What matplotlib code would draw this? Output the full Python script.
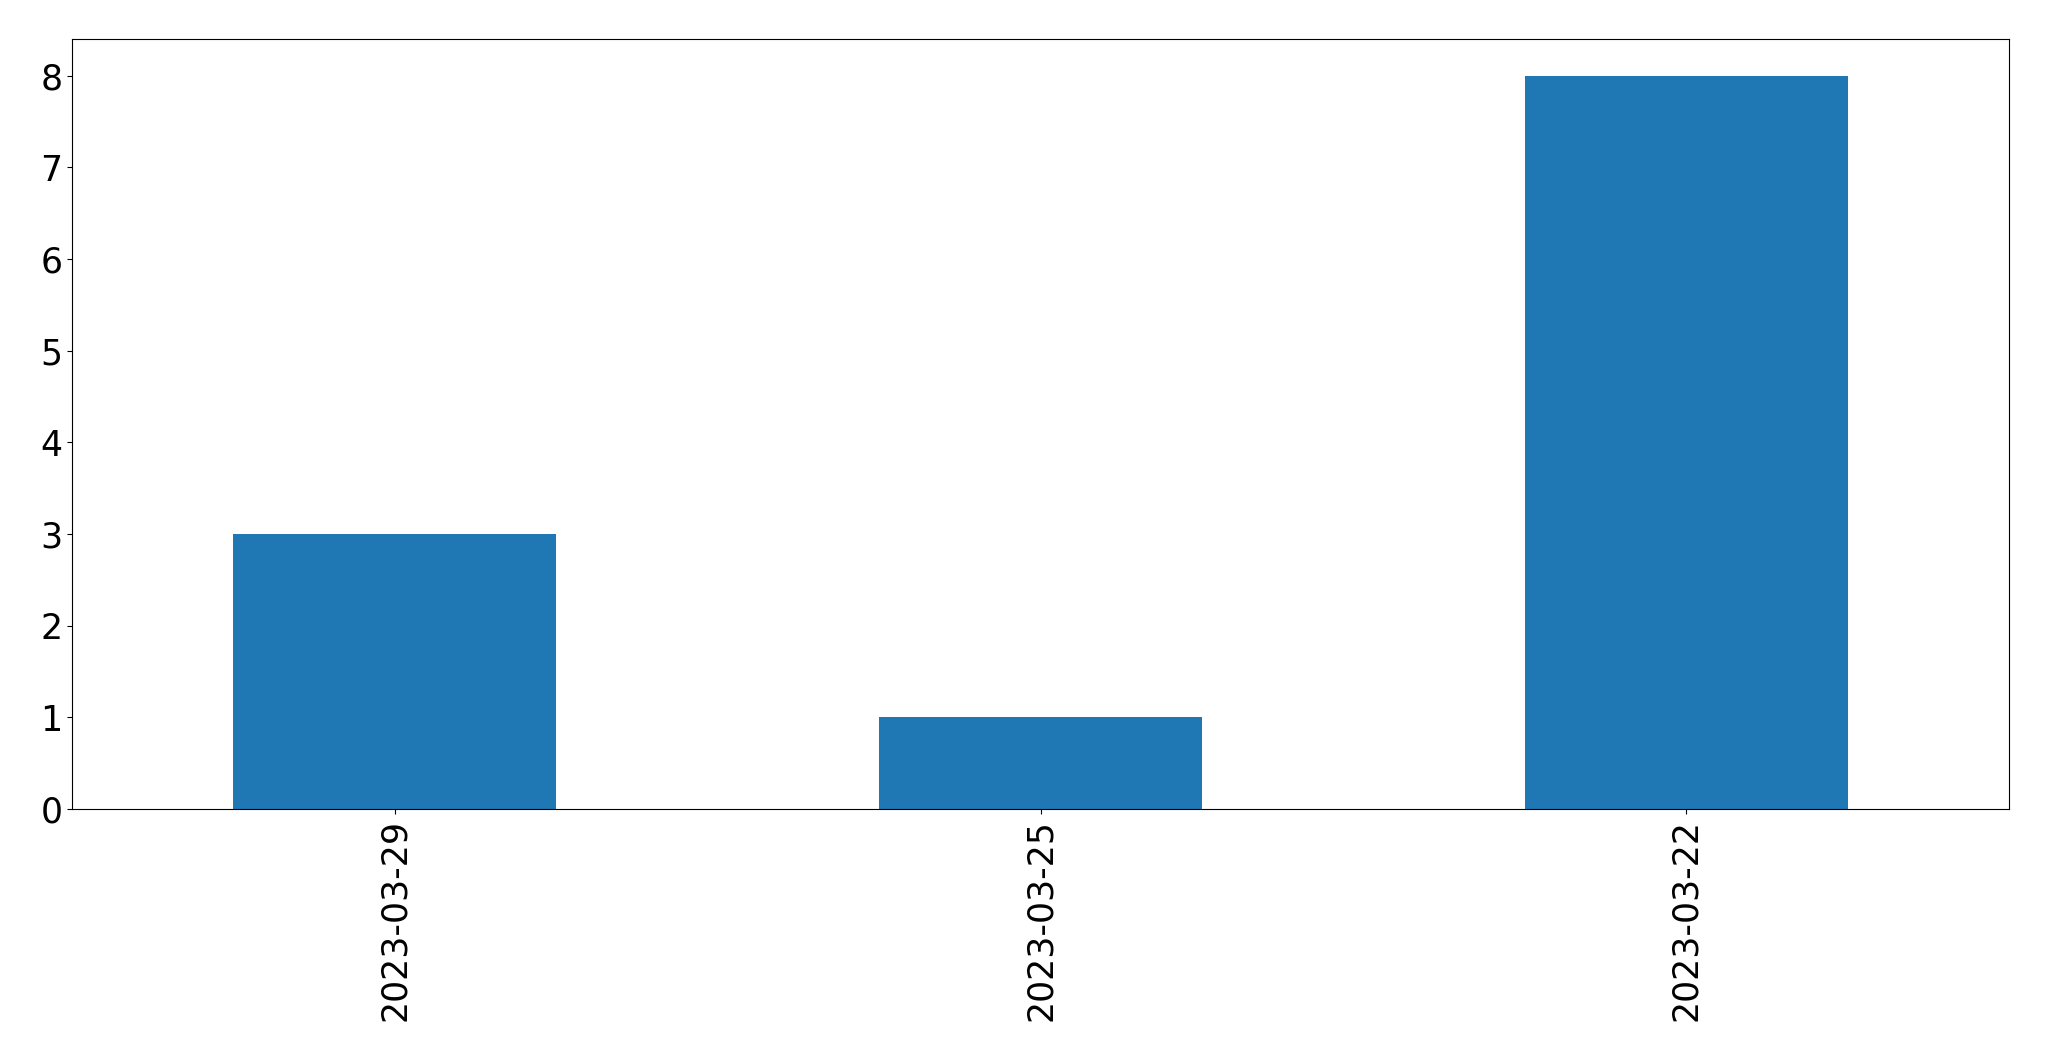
import pandas as pd
import matplotlib
matplotlib.use('Agg')
import matplotlib.pyplot as plt

dates = ['2023-03-29', '2023-03-25', '2023-03-22']
counts = [3, 1, 8]

s = pd.Series(counts, index=dates)

fig = plt.figure(figsize=(20.49, 10.61), dpi=100)
ax = fig.add_axes([72 / 2049, 1 - 809 / 1061, (2009 - 72) / 2049, (809 - 39) / 1061])
s.plot(kind='bar', ax=ax, color='#1f77b4', fontsize=25)
ax.tick_params(axis='both', labelsize=25)

fig.savefig('out.png', dpi=100)
